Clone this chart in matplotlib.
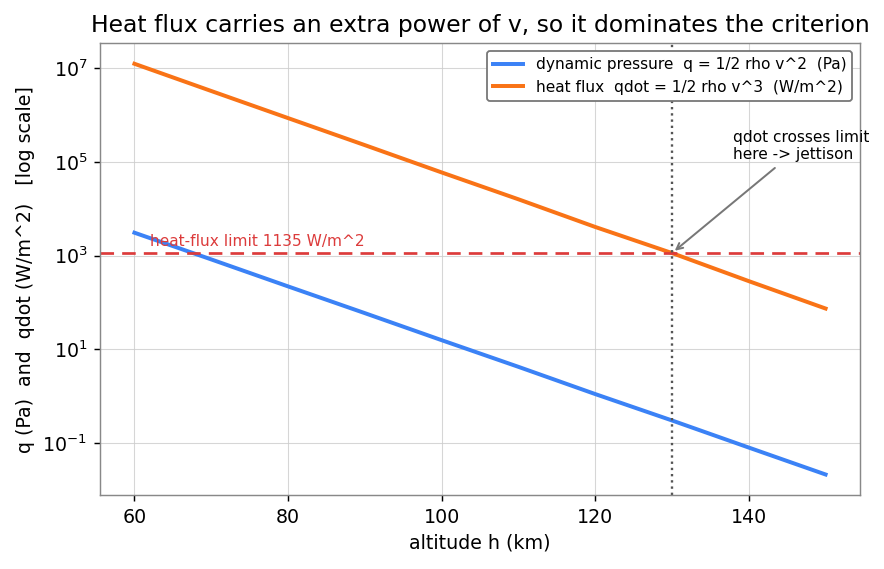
import numpy as np
import matplotlib
matplotlib.use('Agg')
import matplotlib.pyplot as plt

# values (log scale, every 10 km)
altitude_km = [60, 70, 80, 90, 100, 110, 120, 130, 140, 150]
q_pa = [3090, 830, 220, 59, 15.6, 4.2, 1.1, 0.30, 0.079, 0.021]
qdot_wm2 = [1.26e7, 3.3e6, 8.7e5, 2.3e5, 6.0e4, 1.6e4, 4.1e3, 1135, 285, 74]
qdot_limit = 1135
jettison_alt = 130

fig = plt.figure(figsize=(6.8, 4.377), dpi=130)
ax = fig.add_axes([0.113, 0.130, 0.860, 0.794])

ax.plot(altitude_km, q_pa, color='#3b82f6', lw=2.2,
        label='dynamic pressure  q = 1/2 rho v^2  (Pa)')
ax.plot(altitude_km, qdot_wm2, color='#f97316', lw=2.2,
        label='heat flux  qdot = 1/2 rho v^3  (W/m^2)')
ax.set_yscale('log')

ax.axhline(qdot_limit, color='#dc3b3b', ls='--', lw=1.5, dashes=(5, 3))
ax.text(62, qdot_limit * 1.25, 'heat-flux limit 1135 W/m^2', color='#dc3b3b',
        fontsize=8.5, va='bottom', ha='left')
ax.axvline(jettison_alt, color='#555555', ls=':', lw=1.3)

ax.annotate('qdot crosses limit\nhere -> jettison', xy=(jettison_alt, qdot_limit),
            xytext=(138, 1e5), fontsize=8.5, ha='left', va='bottom',
            arrowprops=dict(arrowstyle='->', color='#777777', lw=1.1))

ax.set_title('Heat flux carries an extra power of v, so it dominates the criterion',
             fontsize=13)
ax.set_xlabel('altitude h (km)', fontsize=10.5)
ax.set_ylabel('q (Pa)  and  qdot (W/m^2)   [log scale]', fontsize=10.5)
ax.tick_params(labelsize=10.5)
ax.grid(True, color='#cccccc', lw=0.6, alpha=0.8)
ax.minorticks_off()
for s in ax.spines.values():
    s.set_color('#888888')
ax.legend(loc='upper right', fontsize=8.5, edgecolor='#777777', framealpha=1)

fig.savefig('out.png', dpi=130)
